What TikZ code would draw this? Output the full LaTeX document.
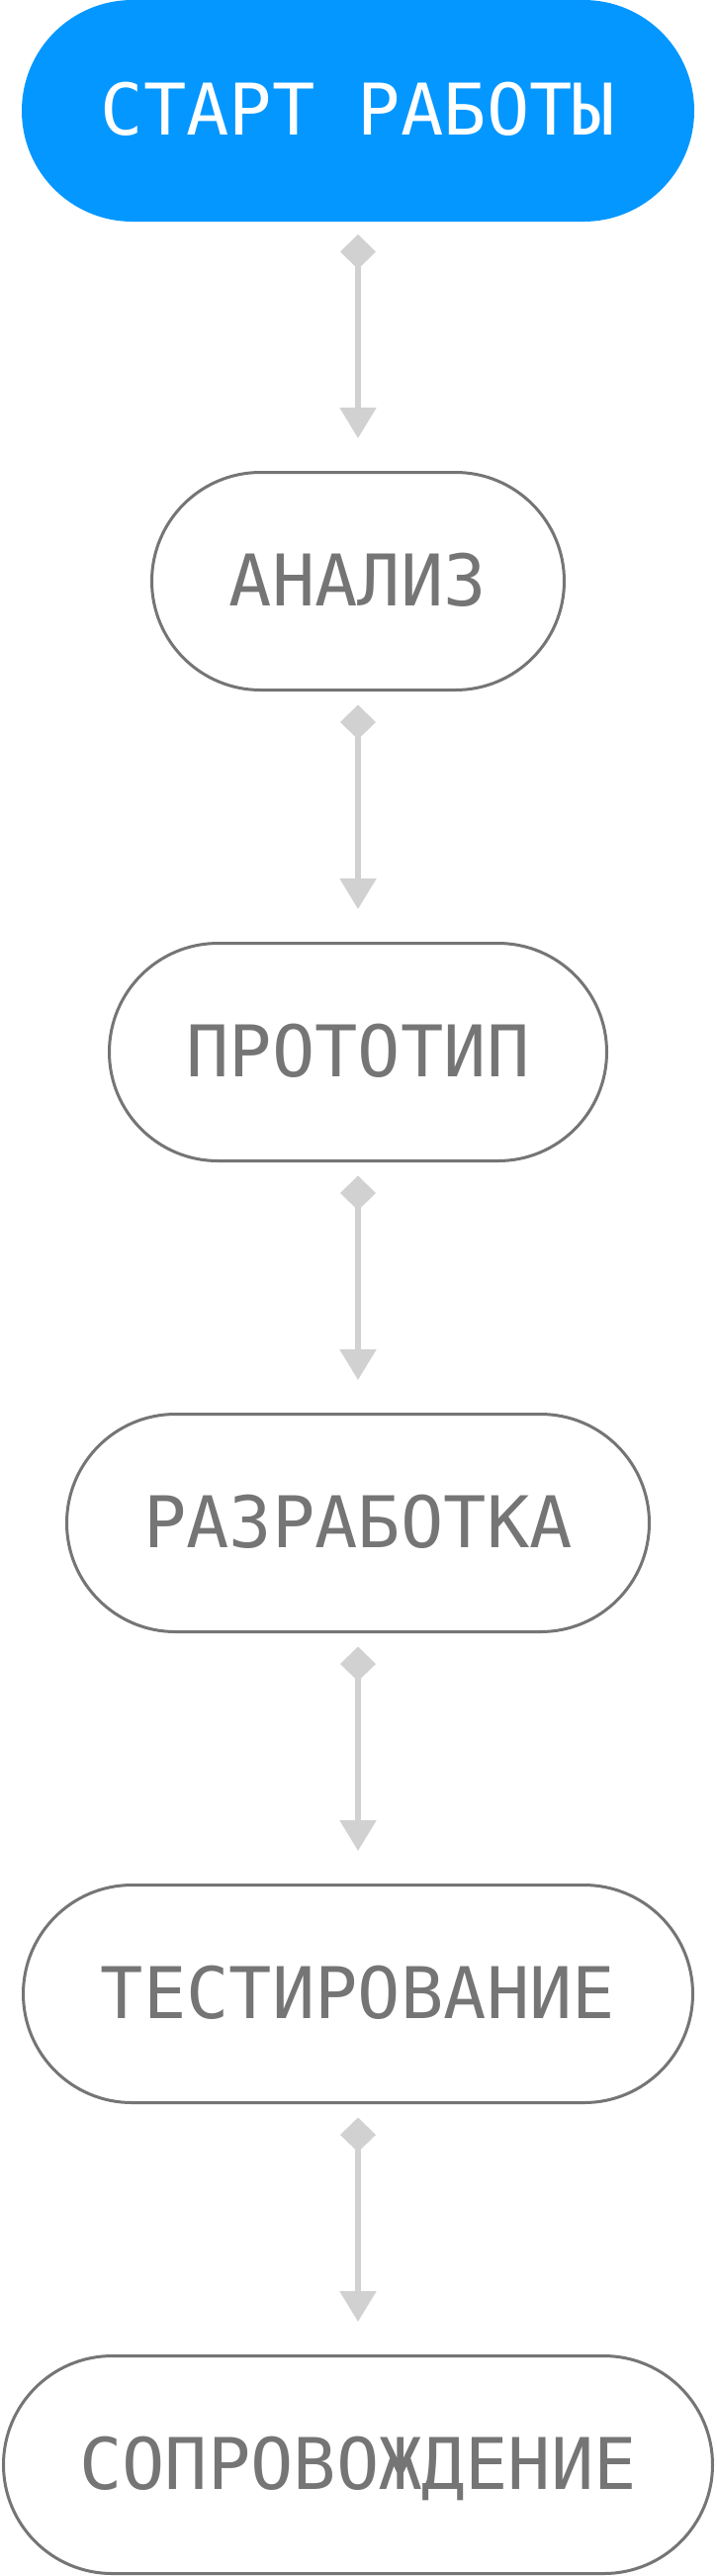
\documentclass[tikz,border=0pt]{standalone}
\usepackage{fontspec}
\newfontfamily\labelmono{DejaVu Sans Mono}
\usetikzlibrary{arrows.meta}
\definecolor{startblue}{HTML}{0497FF}
\definecolor{boxgray}{HTML}{757575}
\definecolor{linkgray}{HTML}{D1D1D1}
\begin{document}
\begin{tikzpicture}[x=1pt,y=-1pt,
  pill/.style={rectangle, rounded corners=110pt, draw=boxgray, line width=3pt,
    minimum height=220pt, outer sep=1.5pt, inner sep=0pt, text=boxgray,
    font=\labelmono\fontsize{72}{72}\selectfont, text height=49pt, text depth=0pt},
  startpill/.style={rectangle, rounded corners=112pt, fill=startblue, draw=none,
    minimum height=224pt, outer sep=0pt, inner sep=0pt, text=white,
    font=\labelmono\fontsize{72}{72}\selectfont, text height=49pt, text depth=0pt},
  conn/.style={draw=linkgray, line width=5.5pt,
    {Diamond[width=36pt,length=35pt]}-{Triangle[width=36pt,length=31pt]}}]
\useasboundingbox (0,0) rectangle (724,2604);
\fill[white] (0,0) rectangle (724,2604);
\node[startpill, minimum width=680pt] (b1) at (362,112) {СТАРТ РАБОТЫ};
\node[pill, minimum width=417pt] (b2) at (362,587.5) {АНАЛИЗ};
\node[pill, minimum width=503pt] (b3) at (362,1063.5) {ПРОТОТИП};
\node[pill, minimum width=589pt] (b4) at (362,1539.5) {РАЗРАБОТКА};
\node[pill, minimum width=677pt] (b5) at (362,2015.5) {ТЕСТИРОВАНИЕ};
\node[pill, minimum width=717pt] (b6) at (362,2491.5) {СОПРОВОЖДЕНИЕ};
\draw[conn] ([yshift=-13pt]b1.south) -- ([yshift=33pt]b2.north);
\draw[conn] ([yshift=-13.5pt]b2.south) -- ([yshift=33pt]b3.north);
\draw[conn] ([yshift=-13.5pt]b3.south) -- ([yshift=33pt]b4.north);
\draw[conn] ([yshift=-13.5pt]b4.south) -- ([yshift=33pt]b5.north);
\draw[conn] ([yshift=-13.5pt]b5.south) -- ([yshift=33pt]b6.north);
\end{tikzpicture}
\end{document}
